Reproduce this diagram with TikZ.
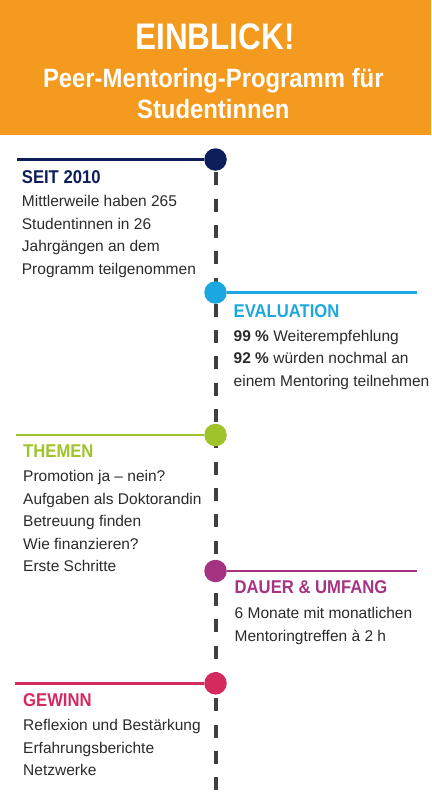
\documentclass[tikz,border=0pt]{standalone}
\usepackage{fontspec}
\setmainfont{Liberation Sans}
\newfontfamily\titlefont[FakeStretch=0.85]{Liberation Sans}
\newfontfamily\subfont[FakeStretch=0.9]{Liberation Sans}
\newfontfamily\headfont[FakeStretch=0.9]{Liberation Sans}
\definecolor{cOrange}{HTML}{F39A1F}
\definecolor{cNavy}{HTML}{0D1E5A}
\definecolor{cBlue}{HTML}{1BA8E0}
\definecolor{cGreen}{HTML}{9FC32A}
\definecolor{cPurple}{HTML}{A63282}
\definecolor{cRed}{HTML}{D52A5E}
\definecolor{cDash}{HTML}{404040}
\definecolor{cText}{HTML}{2A2A2A}
\begin{document}
\begin{tikzpicture}[x=1pt,y=-1pt,
  body/.style={anchor=north west, inner sep=0pt, align=left, text=cText,
    font=\fontsize{15.5}{22.5}\selectfont},
  head/.style={anchor=base west, inner sep=0pt,
    font=\headfont\bfseries\fontsize{18.5}{20}\selectfont},
  dot/.style={circle, inner sep=0pt, minimum size=22.5pt},
  arm/.style={line width=2.6pt},
  ttl/.style={anchor=base, inner sep=0pt, text=white}]
\useasboundingbox (0,0) rectangle (431,800);
\fill[cOrange] (0,0) rectangle (431,135);
\node[ttl, font=\titlefont\bfseries\fontsize{37}{40}\selectfont] (title) at (215,49.3) {EINBLICK!};
\node[ttl, font=\subfont\bfseries\fontsize{26.5}{30}\selectfont] (sub1) at (213.3,87.3) {Peer-Mentoring-Programm für};
\node[ttl, font=\subfont\bfseries\fontsize{26.5}{30}\selectfont] (sub2) at (213.3,118.3) {Studentinnen};

% timeline
\coordinate (ttop) at (215.5,159);
\coordinate (tbot) at (215.5,790);
\draw[cDash, line width=4pt, dash pattern=on 13pt off 13.3pt, dash phase=13pt] (ttop) -- (tbot);

% dots
\node[dot, fill=cNavy] (d1) at (215.5,159.5) {};
\node[dot, fill=cBlue] (d2) at (215.5,292.5) {};
\node[dot, fill=cGreen] (d3) at (215.5,435) {};
\node[dot, fill=cPurple] (d4) at (215.5,571) {};
\node[dot, fill=cRed] (d5) at (215.5,683.3) {};

% arms
\coordinate (a1) at (17,159.5);
\coordinate (a2) at (416.7,292.5);
\coordinate (a3) at (16,435);
\coordinate (a4) at (416.7,571);
\coordinate (a5) at (15,683.3);
\draw[arm, cNavy] (a1) -- (d1);
\draw[arm, cBlue] (d2) -- (a2);
\draw[arm, cGreen] (a3) -- (d3);
\draw[arm, cPurple] (d4) -- (a4);
\draw[arm, cRed] (a5) -- (d5);

% section 1
\node[head, text=cNavy] (h1) at (21.7,183.3) {SEIT 2010};
\node[body] (b1) at (21.7,193.5) {\rule{0pt}{13pt}Mittlerweile haben 265\\Studentinnen in 26\\Jahrgängen an dem\\Programm teilgenommen};

% section 2
\node[head, text=cBlue] (h2) at (233.5,317.3) {EVALUATION};
\node[body] (b2) at (233.5,328) {\rule{0pt}{13pt}\textbf{99 \%} Weiterempfehlung\\\textbf{92 \%} würden nochmal an\\einem Mentoring teilnehmen};

% section 3
\node[head, text=cGreen] (h3) at (23,457.3) {THEMEN};
\node[body] (b3) at (23,468.7) {\rule{0pt}{13pt}Promotion ja – nein?\\Aufgaben als Doktorandin\\Betreuung finden\\Wie finanzieren?\\Erste Schritte};

% section 4
\node[head, text=cPurple] (h4) at (234.5,593.3) {DAUER \& UMFANG};
\node[body] (b4) at (234.5,605.5) {\rule{0pt}{13pt}6 Monate mit monatlichen\\Mentoringtreffen à 2 h};

% section 5
\node[head, text=cRed] (h5) at (23,706.7) {GEWINN};
\node[body] (b5) at (23,717.7) {\rule{0pt}{13pt}Reflexion und Bestärkung\\Erfahrungsberichte\\Netzwerke};
\end{tikzpicture}
\end{document}
